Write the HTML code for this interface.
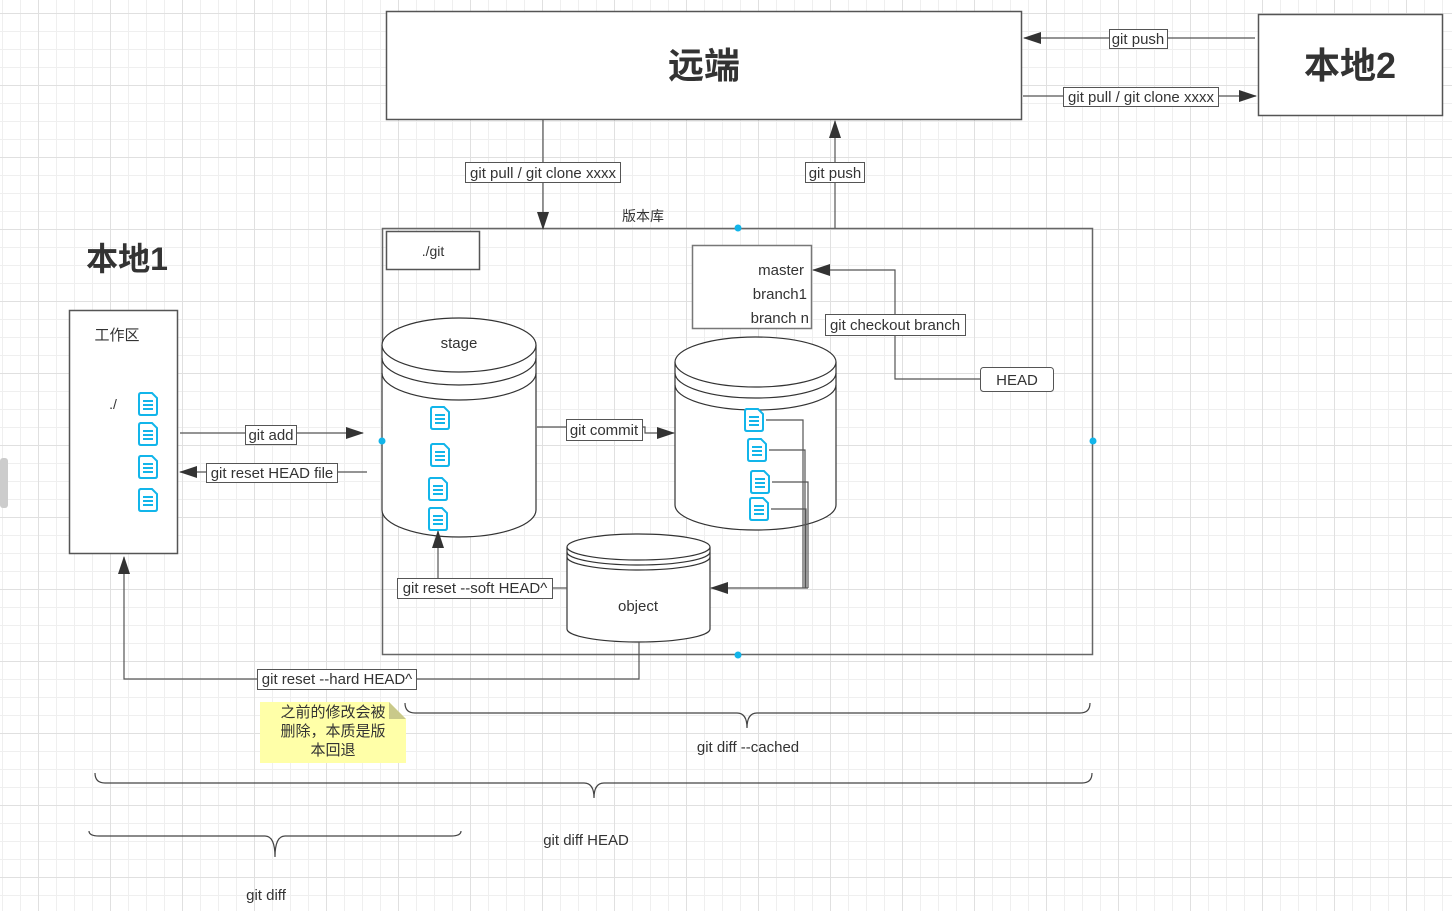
<!DOCTYPE html>
<html><head><meta charset="utf-8"><style>
html,body{margin:0;padding:0;background:#fff;}
svg{display:block;}
text{font-family:"Liberation Sans","Noto Sans CJK SC",sans-serif;fill:#333;}
</style></head><body>
<svg width="1452" height="911" viewBox="0 0 1452 911" xmlns="http://www.w3.org/2000/svg">
<defs>
<pattern id="g" patternUnits="userSpaceOnUse" x="38" y="13" width="72" height="72">
<path d="M0 0.5H72M0 18.5H72M0 36.5H72M0 54.5H72M0.5 0V72M18.5 0V72M36.5 0V72M54.5 0V72" stroke="#efefef" stroke-width="1" fill="none"/>
<path d="M0 0.5H72M0.5 0V72" stroke="#e0e0e0" stroke-width="1" fill="none"/>
</pattern>
<marker id="b" markerWidth="18" markerHeight="12" refX="17" refY="6" orient="auto" markerUnits="userSpaceOnUse"><path d="M0,0 L18,6 L0,12 z" fill="#333"/></marker>
<g id="f"><path d="M2,1 H14 L19,6 V21 Q19,23 17,23 H3 Q1,23 1,21 V3 Q1,1 3,1 Z" fill="#fff" stroke="#12b5ea" stroke-width="2"/><path d="M5,9H15M5,13H15M5,17H15" stroke="#12b5ea" stroke-width="2"/></g>
</defs>
<rect width="1452" height="911" fill="#fff"/>
<rect width="1452" height="911" fill="url(#g)"/>
<rect x="0" y="458" width="8" height="50" rx="3" fill="#ccc"/>

<!-- remote -->
<rect x="386.5" y="11.5" width="635" height="108" fill="#fff" stroke="#555" stroke-width="1.5"/>
<text x="704" y="78" font-size="36" font-weight="bold" text-anchor="middle" fill="#222">远端</text>
<rect x="1258.5" y="14.5" width="184" height="101" fill="#fff" stroke="#555" stroke-width="1.5"/>
<text x="1350" y="78" font-size="36" font-weight="bold" text-anchor="middle" fill="#222">本地2</text>

<!-- repo box -->
<rect x="382.5" y="228.5" width="710" height="426" fill="none" stroke="#666" stroke-width="1.5"/>
<rect x="386.5" y="231.5" width="93" height="38" fill="#fff" stroke="#555" stroke-width="1.5"/>
<text x="433" y="256" font-size="14" text-anchor="middle">./git</text>
<rect x="692.5" y="245.5" width="119" height="83" fill="#fff" stroke="#777" stroke-width="1.5"/>
<g font-size="15" text-anchor="end"><text x="804" y="275">master</text><text x="807" y="299">branch1</text><text x="809" y="323">branch n</text></g>

<!-- cylinders -->
<g fill="#fff" stroke="#333" stroke-width="1.2">
<path d="M382,345 V510 A77,27 0 0 0 536,510 V345"/>
<ellipse cx="459" cy="345" rx="77" ry="27"/>
<path d="M382,358 A77,27 0 0 0 536,358 M382,373 A77,27 0 0 0 536,373" fill="none"/>
<path d="M675,362 V505 A80.5,25 0 0 0 836,505 V362"/>
<ellipse cx="755.5" cy="362" rx="80.5" ry="25"/>
<path d="M675,373 A80.5,25 0 0 0 836,373 M675,385 A80.5,25 0 0 0 836,385" fill="none"/>
<path d="M567,547 V629 A71.5,13 0 0 0 710,629 V547"/>
<ellipse cx="638.5" cy="547" rx="71.5" ry="13"/>
<path d="M567,552 A71.5,13 0 0 0 710,552 M567,557 A71.5,13 0 0 0 710,557" fill="none"/>
</g>
<text x="459" y="348" font-size="15" text-anchor="middle">stage</text>
<text x="638" y="611" font-size="15" text-anchor="middle">object</text>

<!-- local1 -->
<text x="127" y="270" font-size="32" font-weight="bold" text-anchor="middle" fill="#222">本地1</text>
<rect x="69.5" y="310.5" width="108" height="243" fill="#fff" stroke="#555" stroke-width="1.5"/>
<text x="117" y="340" font-size="15" text-anchor="middle">工作区</text>
<text x="113" y="409" font-size="14" text-anchor="middle">./</text>

<!-- connectors -->
<g stroke="#555" stroke-width="1.2" fill="none">
<path d="M1255,38 H1024" marker-end="url(#b)"/>
<path d="M1023,96 H1256" marker-end="url(#b)"/>
<path d="M543,120 V229" marker-end="url(#b)"/>
<path d="M835,228 V121" marker-end="url(#b)"/>
<path d="M980,379 H895 V270 H813" marker-end="url(#b)"/>
<path d="M180,433 H363" marker-end="url(#b)"/>
<path d="M367,472 H180" marker-end="url(#b)"/>
<path d="M537,427 H645 V433 H674" marker-end="url(#b)"/>
<path d="M567,588 H552"/>
<path d="M438,578 V531" marker-end="url(#b)"/>
<path d="M639,642 V679 H124 V557" marker-end="url(#b)"/>
<path d="M766,420 H803 V588"/>
<path d="M769,450 H805 V588"/>
<path d="M772,482 H808 V588"/>
<path d="M771,509 H806 V588"/>
<path d="M808,588 H711" marker-end="url(#b)"/>
</g>

<!-- labels -->
<g font-size="15">
<rect x="1109.5" y="29.5" width="58" height="19" fill="#fff" stroke="#555"/><text x="1138" y="44" text-anchor="middle">git push</text>
<rect x="1063.5" y="87.5" width="155" height="19" fill="#fff" stroke="#555"/><text x="1141" y="102" text-anchor="middle">git pull / git clone xxxx</text>
<rect x="465.5" y="162.5" width="155" height="20" fill="#fff" stroke="#555"/><text x="543" y="178" text-anchor="middle">git pull / git clone xxxx</text>
<rect x="805.5" y="162.5" width="59" height="20" fill="#fff" stroke="#555"/><text x="835" y="178" text-anchor="middle">git push</text>
<rect x="825.5" y="314.5" width="140" height="21" fill="#fff" stroke="#555"/><text x="895" y="330" text-anchor="middle">git checkout branch</text>
<rect x="245.5" y="425.5" width="51" height="19" fill="#fff" stroke="#555"/><text x="271" y="440" text-anchor="middle">git add</text>
<rect x="206.5" y="463.5" width="131" height="19" fill="#fff" stroke="#555"/><text x="272" y="478" text-anchor="middle">git reset HEAD file</text>
<rect x="566.5" y="419.5" width="76" height="21" fill="#fff" stroke="#555"/><text x="604" y="435" text-anchor="middle">git commit</text>
<rect x="397.5" y="578.5" width="155" height="20" fill="#fff" stroke="#555"/><text x="475" y="593" text-anchor="middle">git reset --soft HEAD^</text>
<rect x="257.5" y="669.5" width="159" height="20" fill="#fff" stroke="#555"/><text x="337" y="684" text-anchor="middle">git reset --hard HEAD^</text>
</g>
<rect x="980.5" y="367.5" width="73" height="24" rx="3" fill="#fff" stroke="#555"/><text x="1017" y="385" font-size="15" text-anchor="middle">HEAD</text>
<text x="643" y="221" font-size="14" text-anchor="middle">版本库</text>

<!-- file icons -->
<use href="#f" x="430" y="406"/><use href="#f" x="430" y="443"/><use href="#f" x="428" y="477"/><use href="#f" x="428" y="507"/>
<use href="#f" x="744" y="408"/><use href="#f" x="747" y="438"/><use href="#f" x="750" y="470"/><use href="#f" x="749" y="497"/>
<use href="#f" x="138" y="392"/><use href="#f" x="138" y="422"/><use href="#f" x="138" y="455"/><use href="#f" x="138" y="488"/>

<!-- note -->
<path d="M260,702 H389 L406,719 V763 H260 Z" fill="#ffffa8"/>
<path d="M389,702 L406,719 H389 Z" fill="#c9c98a"/>
<g font-size="15" text-anchor="middle"><text x="333" y="717">之前的修改会被</text><text x="333" y="736">删除，本质是版</text><text x="333" y="755">本回退</text></g>

<!-- braces -->
<g stroke="#444" stroke-width="1.2" fill="none">
<path d="M405,703 Q405,713 415,713 H737 Q747,713 747,728 Q747,713 757,713 H1080 Q1090,713 1090,703"/>
<path d="M95,773 Q95,783 105,783 H584 Q594,783 594,798 Q594,783 604,783 H1082 Q1092,783 1092,773"/>
<path d="M89,831 Q89,836 99,836 H265 Q275,836 275,857 Q275,836 285,836 H451 Q461,836 461,831"/>
</g>
<g font-size="15" text-anchor="middle"><text x="748" y="752">git diff --cached</text><text x="586" y="845">git diff HEAD</text><text x="266" y="900">git diff</text></g>

<!-- dots -->
<g fill="#12b5ea"><circle cx="738" cy="228" r="3.5"/><circle cx="382" cy="441" r="3.5"/><circle cx="1093" cy="441" r="3.5"/><circle cx="738" cy="655" r="3.5"/></g>
</svg>
</body></html>
